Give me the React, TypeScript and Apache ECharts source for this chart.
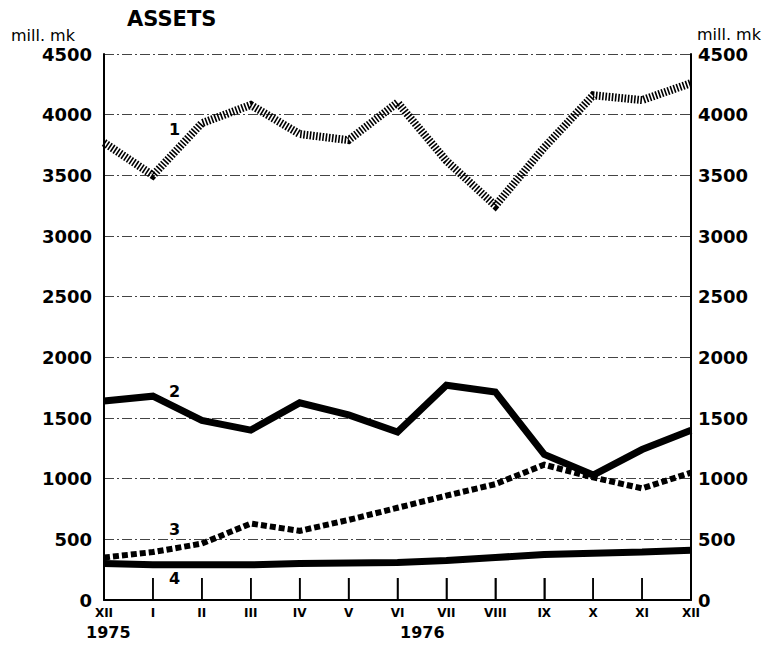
import React, { useEffect, useRef } from "react";
import * as echarts from "echarts";

const months = ["XII", "I", "II", "III", "IV", "V", "VI", "VII", "VIII", "IX", "X", "XI", "XII"];
const series1 = [3770, 3500, 3930, 4080, 3840, 3790, 4100, 3620, 3250, 3730, 4160, 4120, 4260];
const series2 = [1640, 1680, 1480, 1400, 1625, 1525, 1385, 1770, 1715, 1200, 1030, 1240, 1400];
const series3 = [350, 395, 465, 630, 570, 660, 760, 860, 955, 1115, 1010, 920, 1050];
const series4 = [300, 290, 290, 290, 300, 305, 310, 325, 350, 375, 385, 395, 410];
const seriesNames = ["1", "2", "3", "4"];
const yTicks = [0, 500, 1000, 1500, 2000, 2500, 3000, 3500, 4000, 4500];
const years = ["1975", "1976"];
const title = "ASSETS";
const unit = "mill. mk";

const FONT = "DejaVu Sans";

export default function App() {
  const ref = useRef<HTMLDivElement>(null);
  useEffect(() => {
    if (!ref.current) return;
    const chart = echarts.init(ref.current, null, { renderer: "svg" });
    const yMax = yTicks[yTicks.length - 1];
    const yAxisCommon = {
      type: "value",
      min: 0,
      max: yMax,
      interval: 500,
      axisLine: { show: true, lineStyle: { color: "#000", width: 2 } },
      axisTick: { show: false },
    };
    const labelStyle = {
      color: "#000",
      fontFamily: FONT,
      fontWeight: "bold",
      fontSize: 18,
      formatter: (v: number) => String(v),
    };
    chart.setOption({
      animation: false,
      backgroundColor: "#fff",
      grid: [
        { left: 104, right: 90, top: 54, bottom: 45, containLabel: false },
        { left: 104, right: 90, top: 578, bottom: 45, containLabel: false },
      ],
      xAxis: [
        {
          type: "category",
          data: months,
          boundaryGap: false,
          axisLine: { show: true, onZero: false, lineStyle: { color: "#000", width: 2 } },
          axisTick: { show: false },
          axisLabel: { interval: 0, margin: 7, color: "#000", fontFamily: FONT, fontWeight: "bold", fontSize: 12 },
          splitLine: { show: false },
        },
        {
          gridIndex: 1,
          type: "category",
          data: months,
          boundaryGap: false,
          axisLine: { show: false },
          axisTick: { show: false },
          axisLabel: { show: false },
          splitLine: { show: true, interval: 0, lineStyle: { color: "#000", width: 1.5 } },
        },
      ],
      yAxis: [
        {
          ...yAxisCommon,
          position: "left",
          axisLabel: { ...labelStyle, margin: 12 },
          splitLine: { show: true, lineStyle: { color: "#444", width: 1, type: [10, 3, 2, 3] } },
        },
        {
          ...yAxisCommon,
          position: "right",
          axisLabel: { ...labelStyle, margin: 7 },
          splitLine: { show: false },
        },
        {
          gridIndex: 1,
          type: "value",
          min: 0,
          max: 1,
          show: false,
        },
      ],
      series: [
        {
          name: seriesNames[0],
          type: "line",
          data: series1,
          symbol: "none",
          lineStyle: { color: "#000", width: 8, type: [1.6, 1.6], cap: "butt", join: "miter" },
        },
        {
          name: seriesNames[1],
          type: "line",
          data: series2,
          symbol: "none",
          lineStyle: { color: "#000", width: 7, type: "solid", join: "miter" },
        },
        {
          name: seriesNames[2],
          type: "line",
          data: series3,
          symbol: "none",
          lineStyle: { color: "#000", width: 6, type: [6, 3], cap: "butt", join: "miter" },
        },
        {
          name: seriesNames[3],
          type: "line",
          data: series4,
          symbol: "none",
          lineStyle: { color: "#000", width: 7, type: "solid" },
        },
        {
          name: "ticks",
          type: "custom",
          xAxisIndex: 0,
          yAxisIndex: 0,
          silent: true,
          z: 10,
          data: months.map((_, i) => [i, 0]),
          renderItem: (params: any, api: any) => {
            const p = api.coord([api.value(0), 0]);
            return {
              type: "line",
              shape: { x1: p[0], y1: p[1], x2: p[0], y2: p[1] - 22 },
              style: { stroke: "#000", lineWidth: 1.5 },
            };
          },
        },
      ],
      graphic: [
        { type: "text", left: 127, top: 8, style: { text: title, fill: "#000", font: `bold 21px "${FONT}"` } },
        { type: "text", left: 11, top: 27, style: { text: unit, fill: "#000", font: `16px "${FONT}"` } },
        { type: "text", left: 697, top: 26, style: { text: unit, fill: "#000", font: `16px "${FONT}"` } },
        { type: "text", left: 86, top: 624, style: { text: years[0], fill: "#000", font: `bold 16px "${FONT}"` } },
        { type: "text", left: 400, top: 624, style: { text: years[1], fill: "#000", font: `bold 16px "${FONT}"` } },
        { type: "text", left: 169, top: 121, style: { text: seriesNames[0], fill: "#000", font: `bold 16px "${FONT}"` } },
        { type: "text", left: 169, top: 383, style: { text: seriesNames[1], fill: "#000", font: `bold 16px "${FONT}"` } },
        { type: "text", left: 169, top: 521, style: { text: seriesNames[2], fill: "#000", font: `bold 16px "${FONT}"` } },
        { type: "text", left: 169, top: 570, style: { text: seriesNames[3], fill: "#000", font: `bold 16px "${FONT}"` } },
      ],
    });
    return () => chart.dispose();
  }, []);
  return <div ref={ref} style={{ width: 781, height: 645, position: "absolute", left: 0, top: 0 }} />;
}
